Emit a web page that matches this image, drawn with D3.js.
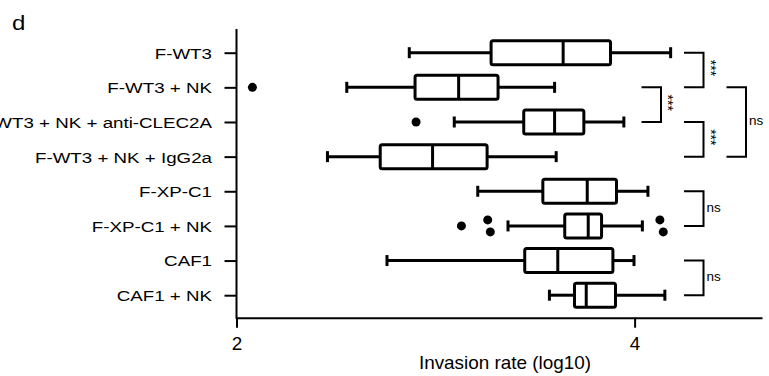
<!DOCTYPE html>
<html lang="en">
<head>
<meta charset="UTF-8">
<title>invasion boxplot</title>
<script src="https://d3js.org/d3.v7.min.js"></script>
<style>
  body { margin: 0; background: #fff; }
  text { font-family: "Liberation Sans", Arial, sans-serif; fill: #000; }
</style>
</head>
<body>
<script>

// groups, top to bottom
const groups = ["F-WT3", "F-WT3 + NK", "F-WT3 + NK + anti-CLEC2A", "F-WT3 + NK + IgG2a",
                "F-XP-C1", "F-XP-C1 + NK", "CAF1", "CAF1 + NK"];

// box stats (log10 invasion rate)
const whiskerLow  = [2.868, 2.554, 3.094, 2.457, 3.212, 3.364, 2.756, 3.572];
const q1          = [3.279, 2.897, 3.443, 2.722, 3.539, 3.649, 3.448, 3.698];
const median      = [3.641, 3.116, 3.598, 2.985, 3.762, 3.767, 3.614, 3.757];
const q3          = [3.879, 3.314, 3.745, 3.259, 3.909, 3.834, 3.891, 3.904];
const whiskerHigh = [4.181, 3.598, 3.946, 3.606, 4.067, 4.039, 3.997, 4.152];

// outlier points
const outlierGroup = ["F-WT3 + NK", "F-WT3 + NK + anti-CLEC2A",
                      "F-XP-C1 + NK", "F-XP-C1 + NK", "F-XP-C1 + NK", "F-XP-C1 + NK", "F-XP-C1 + NK"];
const outlierValue = [2.08, 2.902, 3.13, 3.262, 3.275, 4.144, 4.127];

// significance brackets (tier = which column of brackets)
const compFrom  = ["F-WT3", "F-WT3 + NK", "F-WT3 + NK + anti-CLEC2A", "F-WT3 + NK", "F-XP-C1", "CAF1"];
const compTo    = ["F-WT3 + NK", "F-WT3 + NK + anti-CLEC2A", "F-WT3 + NK + IgG2a", "F-WT3 + NK + IgG2a", "F-XP-C1 + NK", "CAF1 + NK"];
const compLabel = ["***", "***", "***", "ns", "ns", "ns"];
const compTier  = [1, 0, 1, 2, 1, 1];

const xTicks = [2, 4];
const xTitle = "Invasion rate (log10)";

const W = 769, H = 376;
const axisLeftX = 236.5, axisRightX = 762, axisTopY = 29, axisBottomY = 317.7;

const svg = d3.select("body").append("svg")
    .attr("width", W)
    .attr("height", H);

const x = d3.scaleLinear().domain([2, 4.64]).range([axisLeftX, axisRightX]);
const y = d3.scalePoint().domain(groups).range([52.7, 295.2]);

// panel letter
svg.append("text")
    .attr("transform", "translate(12,30) scale(1.2,1)")
    .style("font-size", "20px")
    .text("d");

// y axis
const yAxis = svg.append("g")
    .attr("transform", "translate(" + axisLeftX + ",0)")
    .call(d3.axisLeft(y).tickSize(12).tickSizeOuter(0));
yAxis.select(".domain").remove();
yAxis.selectAll(".tick line").attr("stroke", "#000").attr("stroke-width", 2);
yAxis.selectAll(".tick text")
    .attr("x", 0)
    .attr("dy", "0.36em")
    .attr("transform", "translate(-24.5,0) scale(1.25,1)")
    .style("font-size", "15px")
    .attr("fill", "#000");
svg.append("line")
    .attr("x1", axisLeftX).attr("x2", axisLeftX)
    .attr("y1", axisTopY).attr("y2", axisBottomY + 1)
    .attr("stroke", "#000").attr("stroke-width", 2);

// x axis
const xAxis = svg.append("g")
    .attr("transform", "translate(0," + axisBottomY + ")")
    .call(d3.axisBottom(x).tickValues(xTicks).tickSize(10).tickSizeOuter(0).tickFormat(d3.format("d")));
xAxis.select(".domain").attr("stroke", "#000").attr("stroke-width", 2);
xAxis.selectAll(".tick line").attr("stroke", "#000").attr("stroke-width", 2);
xAxis.selectAll(".tick text")
    .attr("y", 0).attr("dy", 0)
    .attr("transform", "translate(0,32.3) scale(1.08,1)")
    .style("font-size", "17.5px")
    .attr("fill", "#000");

svg.append("text")
    .attr("transform", "translate(505,369) scale(1.08,1)")
    .attr("text-anchor", "middle")
    .style("font-size", "17.5px")
    .text(xTitle);

// boxes
const boxH = 24, capH = 11;
const rows = groups.map((g, i) => ({
    g: g, lo: whiskerLow[i], a: q1[i], m: median[i], b: q3[i], hi: whiskerHigh[i]
}));

const box = svg.selectAll(".box").data(rows).enter().append("g")
    .attr("class", "box")
    .attr("stroke", "#000").attr("stroke-width", 3).attr("fill", "none");

box.append("line")
    .attr("x1", d => x(d.lo)).attr("x2", d => x(d.a))
    .attr("y1", d => y(d.g)).attr("y2", d => y(d.g));
box.append("line")
    .attr("x1", d => x(d.b)).attr("x2", d => x(d.hi))
    .attr("y1", d => y(d.g)).attr("y2", d => y(d.g));
box.append("line")
    .attr("x1", d => x(d.lo)).attr("x2", d => x(d.lo))
    .attr("y1", d => y(d.g) - capH / 2).attr("y2", d => y(d.g) + capH / 2);
box.append("line")
    .attr("x1", d => x(d.hi)).attr("x2", d => x(d.hi))
    .attr("y1", d => y(d.g) - capH / 2).attr("y2", d => y(d.g) + capH / 2);
box.append("rect")
    .attr("x", d => x(d.a)).attr("width", d => x(d.b) - x(d.a))
    .attr("y", d => y(d.g) - boxH / 2).attr("height", boxH)
    .attr("rx", 2).attr("fill", "#fff");
box.append("line")
    .attr("x1", d => x(d.m)).attr("x2", d => x(d.m))
    .attr("y1", d => y(d.g) - boxH / 2).attr("y2", d => y(d.g) + boxH / 2);

// outliers, dodge dots that would overlap
const pts = outlierGroup.map((g, i) => ({g: g, v: outlierValue[i], dy: 0}));
d3.groups(pts, d => d.g).forEach(([g, list]) => {
    list.sort((a, b) => a.v - b.v);
    for (let i = 1; i < list.length; i++) {
        if (x(list[i].v) - x(list[i - 1].v) < 8 && list[i - 1].dy === 0) {
            list[i - 1].dy = -6;
            list[i].dy = 6;
        }
    }
});
svg.selectAll(".outlier").data(pts).enter().append("circle")
    .attr("class", "outlier")
    .attr("cx", d => x(d.v))
    .attr("cy", d => y(d.g) + d.dy)
    .attr("r", 4.5)
    .attr("fill", "#000");

// significance brackets
const tierX = t => 641.5 + t * 42.5, bracketW = 19.5;
const comps = compFrom.map((f, i) => ({f: f, t: compTo[i], label: compLabel[i], tier: compTier[i]}));

const br = svg.selectAll(".bracket").data(comps).enter().append("g").attr("class", "bracket");
br.append("path")
    .attr("d", d => {
        const x0 = tierX(d.tier), x1 = x0 + bracketW;
        return "M" + x0 + "," + y(d.f) + "H" + x1 + "V" + y(d.t) + "H" + x0;
    })
    .attr("fill", "none").attr("stroke", "#000").attr("stroke-width", 2);

br.filter(d => d.label === "ns").append("text")
    .attr("x", d => tierX(d.tier) + bracketW + 3)
    .attr("y", d => (y(d.f) + y(d.t)) / 2 + 3)
    .style("font-size", "13.5px")
    .text(d => d.label);

br.filter(d => d.label !== "ns").append("text")
    .attr("transform", d => "translate(" + (tierX(d.tier) + bracketW + 2) + "," + ((y(d.f) + y(d.t)) / 2 - 2) + ") rotate(90)")
    .attr("text-anchor", "middle")
    .style("font-size", "14px")
    .text(d => d.label);

</script>
</body>
</html>
